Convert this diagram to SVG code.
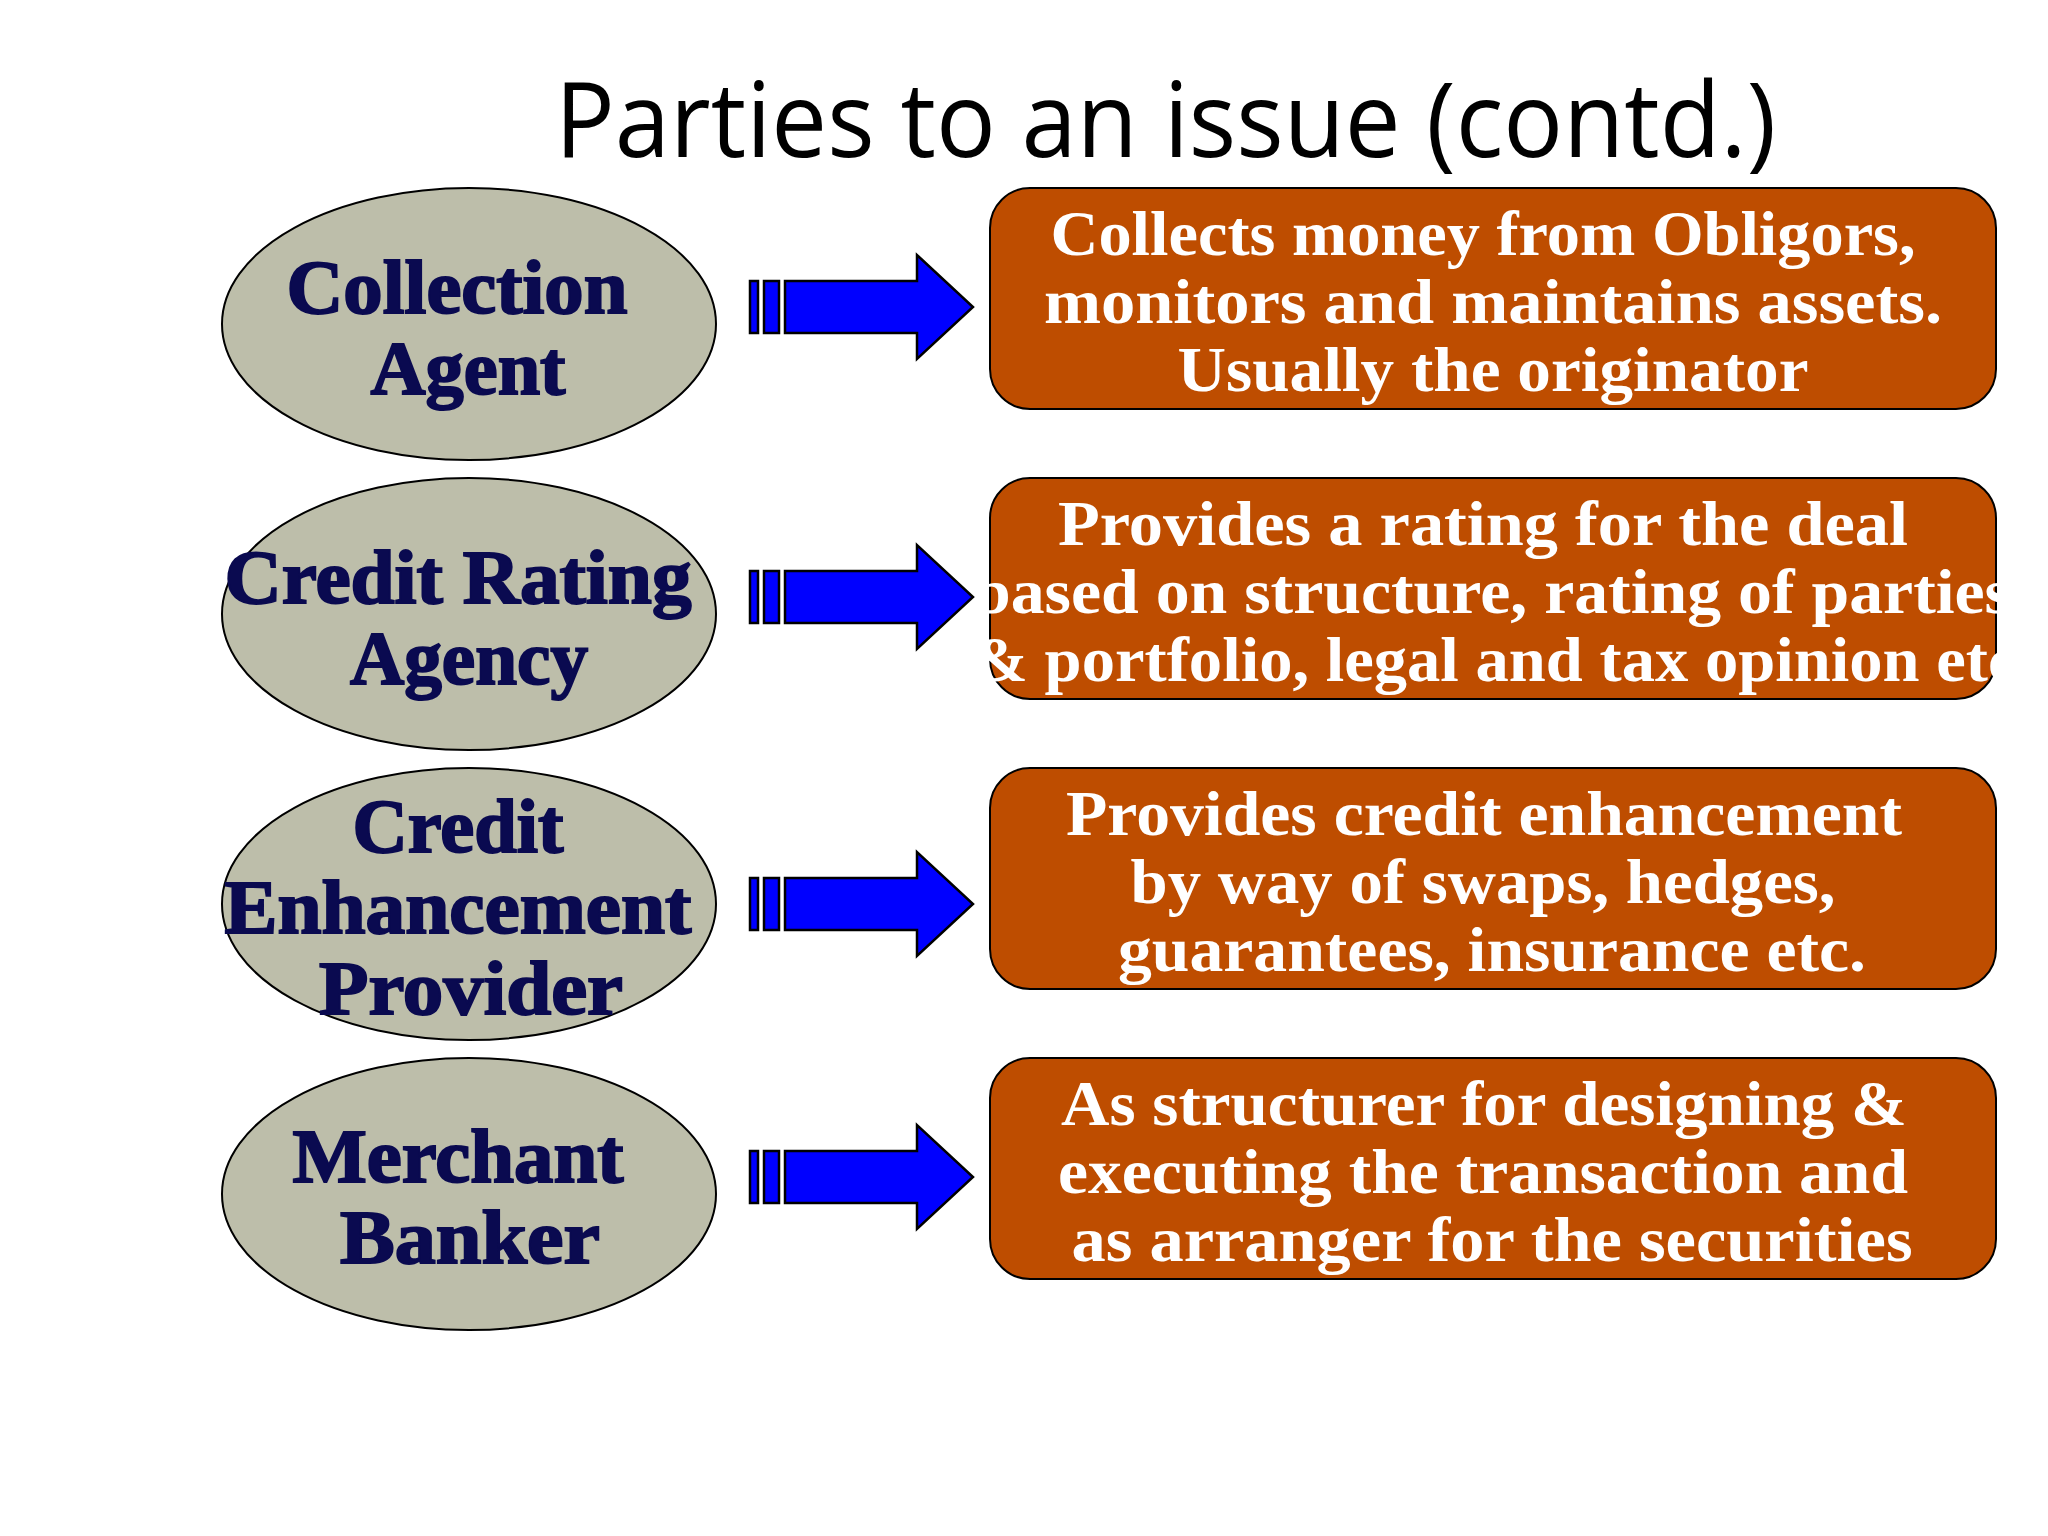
<svg xmlns="http://www.w3.org/2000/svg" width="2048" height="1536" viewBox="0 0 2048 1536">
<style>
.title{font-family:"Open Sans","Noto Sans",sans-serif;font-size:104px;fill:#000}
.ell{fill:#BDBEAA;stroke:#000;stroke-width:2}
.et{font-family:"Liberation Serif","DejaVu Serif",serif;font-weight:bold;font-size:76px;fill:#0A0A50;stroke:#0A0A50;stroke-width:2;text-anchor:middle}
.box{fill:#BE4D00;stroke:#000;stroke-width:2}
.bt{font-family:"Liberation Serif","DejaVu Serif",serif;font-weight:bold;font-size:64px;fill:#fff;text-anchor:middle}
.arr{fill:#0000FF;stroke:#000;stroke-width:2.5;stroke-linejoin:miter}
</style>
<defs>
<clipPath id="clip2"><rect x="983" y="470" width="1016" height="240"/></clipPath>
</defs>
<rect width="2048" height="1536" fill="#fff"/>
<text class="title" x="555" y="157" textLength="1221" lengthAdjust="spacingAndGlyphs">Parties to an issue (contd.)</text>

<g id="connectors">
<g id="arrow1" transform="translate(0,307)">
<rect class="arr" x="750" y="-26" width="8" height="52"/><rect class="arr" x="764" y="-26" width="15" height="52"/>
<path class="arr" d="M785,-26 H917 V-52 L973,0 L917,52 V26 H785 Z"/>
</g>
<g id="arrow2" transform="translate(0,597)">
<rect class="arr" x="750" y="-26" width="8" height="52"/><rect class="arr" x="764" y="-26" width="15" height="52"/>
<path class="arr" d="M785,-26 H917 V-52 L973,0 L917,52 V26 H785 Z"/>
</g>
<g id="arrow3" transform="translate(0,904)">
<rect class="arr" x="750" y="-26" width="8" height="52"/><rect class="arr" x="764" y="-26" width="15" height="52"/>
<path class="arr" d="M785,-26 H917 V-52 L973,0 L917,52 V26 H785 Z"/>
</g>
<g id="arrow4" transform="translate(0,1177)">
<rect class="arr" x="750" y="-26" width="8" height="52"/><rect class="arr" x="764" y="-26" width="15" height="52"/>
<path class="arr" d="M785,-26 H917 V-52 L973,0 L917,52 V26 H785 Z"/>
</g>
</g>

<g id="node-collection-agent">
<ellipse class="ell" cx="469" cy="324" rx="247" ry="136"/>
<text class="et" x="457" y="313" textLength="341" lengthAdjust="spacingAndGlyphs">Collection</text>
<text class="et" x="468" y="394" textLength="195" lengthAdjust="spacingAndGlyphs">Agent</text>
</g>
<g id="node-credit-rating-agency">
<ellipse class="ell" cx="469" cy="614" rx="247" ry="136"/>
<text class="et" x="458" y="603" textLength="467" lengthAdjust="spacingAndGlyphs">Credit Rating</text>
<text class="et" x="469" y="684" textLength="238" lengthAdjust="spacingAndGlyphs">Agency</text>
</g>
<g id="node-credit-enhancement-provider">
<ellipse class="ell" cx="469" cy="904" rx="247" ry="136"/>
<text class="et" x="458" y="852" textLength="211" lengthAdjust="spacingAndGlyphs">Credit</text>
<text class="et" x="458" y="933" textLength="467" lengthAdjust="spacingAndGlyphs">Enhancement</text>
<text class="et" x="471" y="1014" textLength="304" lengthAdjust="spacingAndGlyphs">Provider</text>
</g>
<g id="node-merchant-banker">
<ellipse class="ell" cx="469" cy="1194" rx="247" ry="136"/>
<text class="et" x="458" y="1182" textLength="331" lengthAdjust="spacingAndGlyphs">Merchant</text>
<text class="et" x="470" y="1263" textLength="260" lengthAdjust="spacingAndGlyphs">Banker</text>
</g>

<g id="node-box1">
<rect class="box" x="990" y="188" width="1006" height="221" rx="40"/>
<text class="bt" x="1483" y="255" textLength="865" lengthAdjust="spacingAndGlyphs">Collects money from Obligors,</text>
<text class="bt" x="1493" y="323" textLength="898" lengthAdjust="spacingAndGlyphs">monitors and maintains assets.</text>
<text class="bt" x="1493" y="391" textLength="631" lengthAdjust="spacingAndGlyphs">Usually the originator</text>
</g>
<g id="node-box2">
<rect class="box" x="990" y="478" width="1006" height="221" rx="40"/>
<g clip-path="url(#clip2)">
<text class="bt" x="1483" y="545" textLength="850" lengthAdjust="spacingAndGlyphs">Provides a rating for the deal</text>
<text class="bt" x="1492" y="613" textLength="1038" lengthAdjust="spacingAndGlyphs">based on structure, rating of parties</text>
<text class="bt" x="1495" y="681" textLength="1045" lengthAdjust="spacingAndGlyphs">&amp; portfolio, legal and tax opinion etc</text>
</g>
</g>
<g id="node-box3">
<rect class="box" x="990" y="768" width="1006" height="221" rx="40"/>
<text class="bt" x="1484" y="835" textLength="836" lengthAdjust="spacingAndGlyphs">Provides credit enhancement</text>
<text class="bt" x="1483" y="903" textLength="705" lengthAdjust="spacingAndGlyphs">by way of swaps, hedges,</text>
<text class="bt" x="1492" y="971" textLength="748" lengthAdjust="spacingAndGlyphs">guarantees, insurance etc.</text>
</g>
<g id="node-box4">
<rect class="box" x="990" y="1058" width="1006" height="221" rx="40"/>
<text class="bt" x="1484" y="1125" textLength="846" lengthAdjust="spacingAndGlyphs">As structurer for designing &amp;</text>
<text class="bt" x="1483" y="1193" textLength="850" lengthAdjust="spacingAndGlyphs">executing the transaction and</text>
<text class="bt" x="1492" y="1261" textLength="841" lengthAdjust="spacingAndGlyphs">as arranger for the securities</text>
</g>
</svg>
